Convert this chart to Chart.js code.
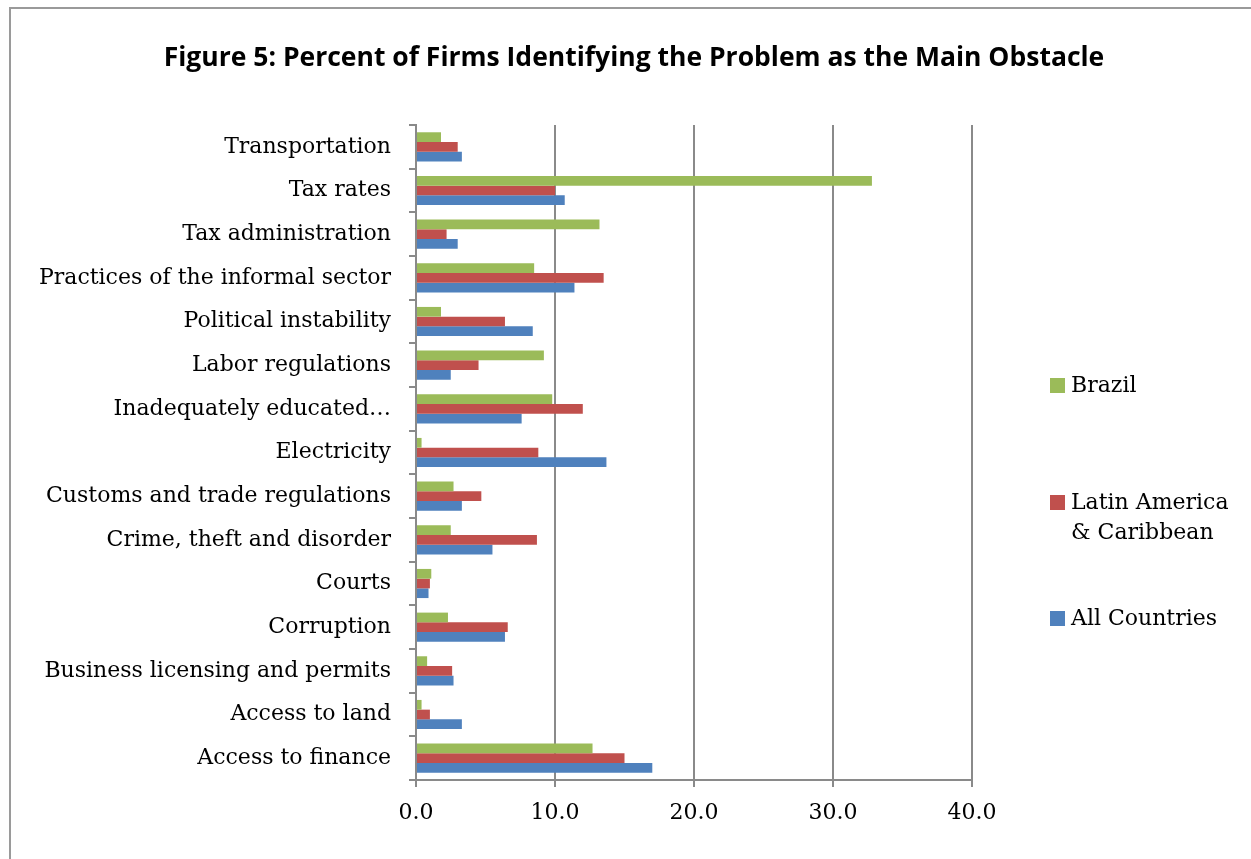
<!DOCTYPE html>
<html>
<head>
<meta charset="utf-8">
<script src="https://cdn.jsdelivr.net/npm/chart.js@4"></script>
<style>
  html, body { margin: 0; padding: 0; background: #fff; }
  #wrap { position: relative; width: 1251px; height: 859px; overflow: hidden; }
  #frame { position: absolute; left: 9px; top: 7px; width: 1400px; height: 1000px; border: 2px solid #9a9a9a; box-sizing: border-box; }
  canvas { position: absolute; left: 0; top: 0; }
  #title { position: absolute; left: 0; top: 38px; width: 1268px; text-align: center; font-family: "Open Sans", sans-serif; font-weight: bold; font-size: 26.5px; line-height: 36px; color: #000; white-space: nowrap; }
  .legend { position: absolute; left: 1050px; font-family: "DejaVu Serif", serif; font-size: 22px; color: #000; line-height: 30px; }
  .legend .box { position: absolute; left: 0; top: 8px; width: 15px; height: 15px; }
  .legend .txt { position: absolute; left: 21px; top: 0; white-space: nowrap; }
</style>
</head>
<body>
<div id="wrap">
  <div id="frame"></div>
  <canvas id="chart" width="1251" height="859"></canvas>
  <div id="title">Figure 5: Percent of Firms Identifying the Problem as the Main Obstacle</div>
  <div id="legend"></div>
</div>
<script>
const categories = [
  "Transportation",
  "Tax rates",
  "Tax administration",
  "Practices of the informal sector",
  "Political instability",
  "Labor regulations",
  "Inadequately educated\u2026",
  "Electricity",
  "Customs and trade regulations",
  "Crime, theft and disorder",
  "Courts",
  "Corruption",
  "Business licensing and permits",
  "Access to land",
  "Access to finance"
];
const brazil = [1.8, 32.8, 13.2, 8.5, 1.8, 9.2, 9.8, 0.4, 2.7, 2.5, 1.1, 2.3, 0.8, 0.4, 12.7];
const latinAmerica = [3.0, 10.0, 2.2, 13.5, 6.4, 4.5, 12.0, 8.8, 4.7, 8.7, 1.0, 6.6, 2.6, 1.0, 15.0];
const allCountries = [3.3, 10.7, 3.0, 11.4, 8.4, 2.5, 7.6, 13.7, 3.3, 5.5, 0.9, 6.4, 2.7, 3.3, 17.0];
const xTicks = [0, 10, 20, 30, 40];

const series = [
  { label: ["Brazil"], data: brazil, color: "#9BBB59", top: 370 },
  { label: ["Latin America", "& Caribbean"], data: latinAmerica, color: "#C0504D", top: 487 },
  { label: ["All Countries"], data: allCountries, color: "#4F81BD", top: 603 }
];

const gridColor = "#8a8a8a";
const serif = "'DejaVu Serif', serif";

new Chart(document.getElementById("chart"), {
  type: "bar",
  data: {
    labels: categories,
    datasets: series.map(s => ({
      label: s.label.join(" "),
      data: s.data,
      backgroundColor: s.color,
      borderWidth: 0,
      barPercentage: 1.0,
      categoryPercentage: 0.667
    }))
  },
  options: {
    indexAxis: "y",
    responsive: false,
    animation: false,
    layout: { padding: { left: 0, right: 279, top: 125, bottom: 0 } },
    plugins: {
      legend: { display: false },
      tooltip: { enabled: false },
      title: { display: false }
    },
    scales: {
      x: {
        min: 0,
        max: 40,
        afterBuildTicks: scale => { scale.ticks = xTicks.map(v => ({ value: v })); },
        afterFit: scale => { scale.height = 79; },
        grid: { color: gridColor, lineWidth: 2, tickLength: 7, drawTicks: true },
        border: { color: gridColor, width: 2 },
        ticks: {
          color: "#000",
          padding: 13,
          font: { family: serif, size: 22 },
          callback: v => Number(v).toFixed(1)
        }
      },
      y: {
        afterFit: scale => { scale.width = 416; },
        grid: { drawOnChartArea: false, drawTicks: true, tickLength: 7, color: gridColor, lineWidth: 2, offset: true },
        border: { color: gridColor, width: 2 },
        ticks: {
          color: "#000",
          padding: 18,
          autoSkip: false,
          font: { family: serif, size: 22 }
        }
      }
    }
  }
});

const legend = document.getElementById("legend");
series.forEach(s => {
  const item = document.createElement("div");
  item.className = "legend";
  item.style.top = s.top + "px";
  item.innerHTML = '<div class="box" style="background:' + s.color + '"></div>' +
    '<div class="txt">' + s.label.join("<br>") + "</div>";
  legend.appendChild(item);
});
</script>
</body>
</html>
